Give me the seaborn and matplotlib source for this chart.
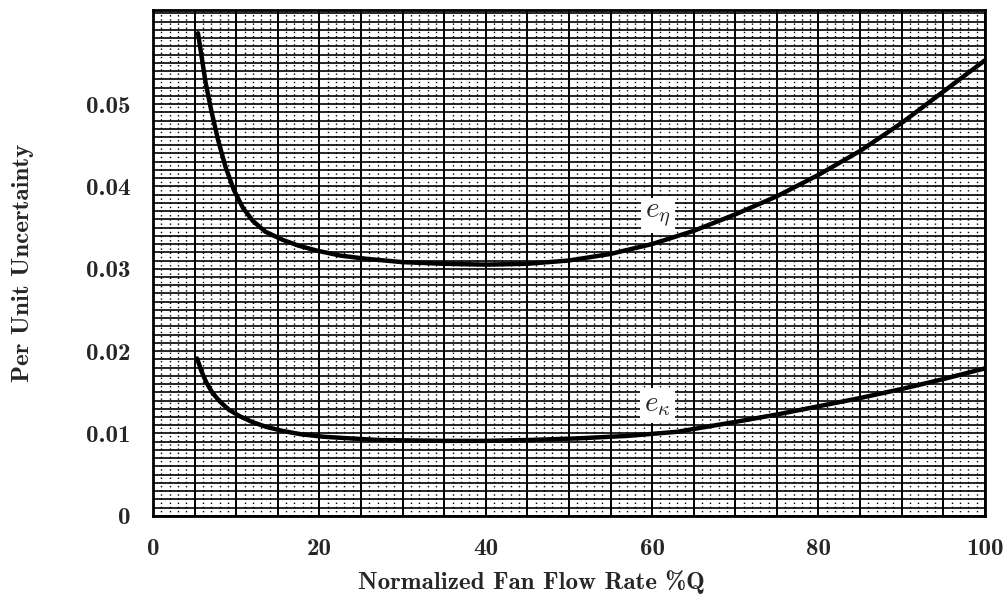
import matplotlib
matplotlib.use("Agg")
from matplotlib import pyplot as plt
import seaborn as sns
import pandas as pd

# curve e_eta (upper)
eta_x = [5.4, 5.8, 6.3, 7.0, 7.8, 8.7, 9.7, 10.8, 12.0, 13.5, 15.6, 17.5, 19.7,
         22.5, 25.7, 30, 35, 40, 45, 50, 55, 60, 65, 70, 75, 80, 85, 90, 95, 100]
eta_y = [0.0586, 0.0560, 0.0527, 0.0492, 0.0457, 0.0424, 0.0396, 0.0374, 0.0358,
         0.0345, 0.0335, 0.0328, 0.0322, 0.0316, 0.0312, 0.0308, 0.0306, 0.0305,
         0.0306, 0.0310, 0.0318, 0.0330, 0.0346, 0.0366, 0.0388, 0.0414, 0.0443,
         0.0477, 0.0515, 0.0553]

# curve e_kappa (lower)
kap_x = [5.3, 5.8, 6.4, 7.1, 8.0, 9.1, 10.4, 11.9, 13.6, 15.6, 17.8, 20.5, 23.7,
         27.3, 35, 40, 45, 51, 57, 63, 70, 75, 80, 85, 90, 95, 100]
kap_y = [0.0191, 0.0176, 0.0162, 0.0150, 0.0139, 0.0129, 0.0121, 0.0114, 0.0108,
         0.0103, 0.0099, 0.0096, 0.0094, 0.0092, 0.0091, 0.0091, 0.0092, 0.0094,
         0.0097, 0.0102, 0.0114, 0.0123, 0.0133, 0.0143, 0.0154, 0.0166, 0.0179]

x_ticks = [0, 20, 40, 60, 80, 100]
y_ticks = [0, 0.01, 0.02, 0.03, 0.04, 0.05]
y_tick_labels = ['0', '0.01', '0.02', '0.03', '0.04', '0.05']

df = pd.concat([
    pd.DataFrame({'x': eta_x, 'y': eta_y, 'curve': 'eta'}),
    pd.DataFrame({'x': kap_x, 'y': kap_y, 'curve': 'kappa'}),
])

sns.set_style('white')
plt.rcParams['font.family'] = ['cmb10', 'DejaVu Serif']
plt.rcParams['mathtext.fontset'] = 'cm'
plt.rcParams['axes.unicode_minus'] = False

fig = plt.figure(figsize=(10.07, 5.97), dpi=100)
ax = fig.add_axes([0.152, 0.136, 0.826, 0.847])

# graph paper look
for xv in range(0, 101):
    if xv % 5:
        ax.axvline(xv, color='black', linewidth=1.0, linestyle=(0, (1, 2)), zorder=1)
    else:
        ax.axvline(xv, color='black', linewidth=1.4, zorder=1)
for i in range(0, 62):
    ax.axhline(i * 0.001, color='black', linewidth=1.2, zorder=1)

sns.lineplot(data=df, x='x', y='y', hue='curve', palette=['black', 'black'],
             linewidth=3.2, legend=False, ax=ax, zorder=3, sort=False,
             estimator=None)

ax.set_xlim(0, 100)
ax.set_ylim(0, 0.0614)
ax.set_xticks(x_ticks)
ax.set_yticks(y_ticks)
ax.set_xticklabels([str(t) for t in x_ticks])
ax.set_yticklabels(y_tick_labels)
ax.grid(False)

ax.tick_params(axis='both', length=0, labelsize=18, pad=16)
for s in ax.spines.values():
    s.set_color('black')
    s.set_linewidth(2)

ax.set_xlabel('Normalized Fan Flow Rate %Q', fontsize=18)
ax.set_ylabel('Per Unit Uncertainty', fontsize=18)
ax.xaxis.set_label_coords(0.455, -0.108)
ax.yaxis.set_label_coords(-0.143, 0.5)

box = dict(facecolor='white', edgecolor='none', pad=3)
ax.text(60.7, 0.0365, r'$e_{\eta}$', fontsize=21, ha='center', va='center',
        bbox=box, zorder=4)
ax.text(60.6, 0.0134, r'$e_{\kappa}$', fontsize=21, ha='center', va='center',
        bbox=box, zorder=4)

fig.savefig('out.png', dpi=100)
